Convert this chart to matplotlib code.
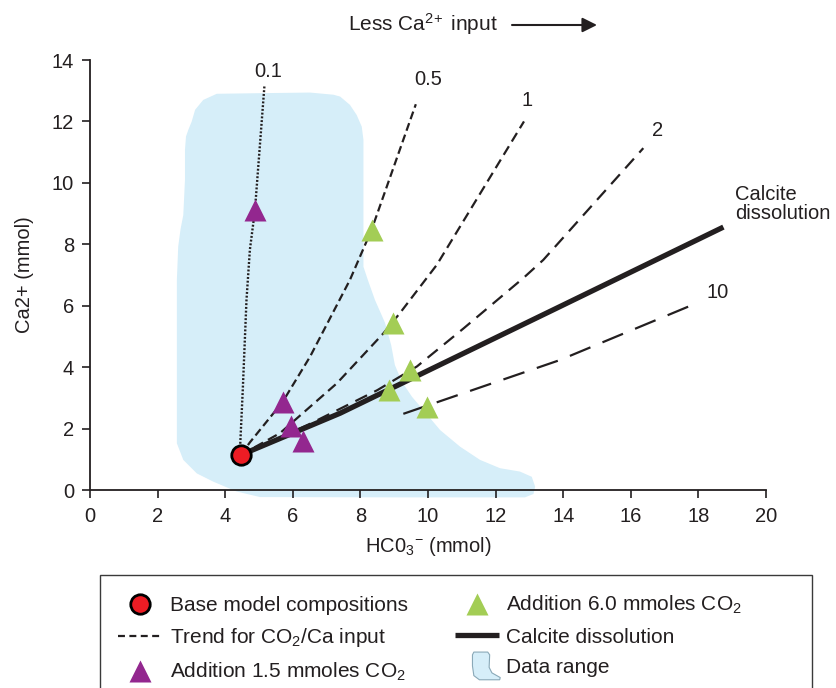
import matplotlib
matplotlib.use("Agg")
import matplotlib.pyplot as plt
import matplotlib.patches as mpatches
from matplotlib.lines import Line2D
from matplotlib.legend_handler import HandlerPatch

plt.rcParams['font.family'] = ['Liberation Sans', 'DejaVu Sans']
plt.rcParams['mathtext.fontset'] = 'custom'
plt.rcParams['mathtext.rm'] = 'Liberation Sans'
plt.rcParams['mathtext.it'] = 'Liberation Sans:italic'
plt.rcParams['mathtext.bf'] = 'Liberation Sans:bold'
plt.rcParams['lines.scale_dashes'] = False

# ---------------- data ----------------
base_x = [4.46]
base_y = [1.14]

add15_x = [4.88, 5.70, 5.94, 6.31]
add15_y = [9.11, 2.87, 2.07, 1.60]

add60_x = [8.33, 8.97, 9.47, 8.86, 9.98]
add60_y = [8.47, 5.44, 3.90, 3.26, 2.70]

t01_x = [4.43, 4.52, 4.63, 4.73, 4.88, 5.16]
t01_y = [1.14, 3.26, 6.19, 7.82, 9.11, 13.15]

t05_x = [4.46, 4.73, 5.70, 6.51, 7.69, 8.33, 9.64]
t05_y = [1.14, 1.55, 2.87, 4.34, 6.84, 8.47, 12.56]

t1_x = [4.46, 5.62, 7.30, 8.68, 9.17, 10.26, 12.84]
t1_y = [1.14, 1.85, 3.47, 5.10, 5.76, 7.33, 12.00]

t2_x = [4.46, 6.50, 8.50, 9.67, 11.04, 12.82, 13.41, 16.37]
t2_y = [1.14, 2.15, 3.25, 4.02, 5.25, 6.90, 7.49, 11.13]

t10_x = [9.27, 13.90, 18.05]
t10_y = [2.48, 4.23, 6.13]

calcite_x = [4.46, 7.40, 13.90, 18.74]
calcite_y = [1.14, 2.50, 5.97, 8.56]

range_x = [3.75, 5.03, 6.51, 7.20, 7.40, 7.69, 7.89, 8.04, 8.09, 8.09, 8.09,
           8.22, 8.43, 8.73, 8.91, 9.02, 9.23, 9.53, 9.91, 10.36, 10.95, 11.54,
           12.13, 12.72, 13.07, 13.17, 13.12, 12.87, 9.17, 5.03, 4.34, 3.65,
           3.16, 2.76, 2.57, 2.57, 2.61, 2.68, 2.76, 2.81, 2.81, 2.84, 2.91,
           3.01, 3.11, 3.35]
range_y = [12.90, 12.92, 12.94, 12.87, 12.81, 12.54, 12.21, 11.83, 11.40, 9.45, 7.27,
           6.84, 6.19, 5.44, 4.72, 4.07, 3.52, 3.03, 2.54, 1.95, 1.41, 0.98,
           0.71, 0.60, 0.43, 0.11, -0.13, -0.24, -0.24, -0.23, -0.05, 0.27,
           0.54, 0.98, 1.52, 6.84, 7.93, 8.50, 8.95, 10.10, 11.07, 11.51, 11.73,
           12.00, 12.38, 12.70]

trend_labels = ['0.1', '0.5', '1', '2', '10']
trend_label_x = [5.27, 10.0, 12.93, 16.80, 18.58]
trend_label_y = [13.62, 13.36, 12.67, 11.69, 6.42]

x_ticks = [0, 2, 4, 6, 8, 10, 12, 14, 16, 18, 20]
y_ticks = [0, 2, 4, 6, 8, 10, 12, 14]

# ---------------- styles ----------------
INK = '#231f20'
BLUE = '#d6eef9'
PURPLE = '#93278f'
GREEN = '#a3cd55'
RED = '#ed1c24'

W, H = 836, 688
fig = plt.figure(figsize=(W / 100, H / 100), dpi=100)
ax = fig.add_axes([90 / W, 1 - 490 / H, (766 - 90) / W, (490 - 60) / H])

ax.fill(range_x, range_y, color=BLUE, lw=0, zorder=0.5, clip_on=False)

ax.plot(t01_x, t01_y, color=INK, lw=1.7, dashes=(1.4, 1.3), zorder=2)
ax.plot(t05_x, t05_y, color=INK, lw=1.6, dashes=(5.8, 3.0), zorder=2)
ax.plot(t1_x, t1_y, color=INK, lw=1.6, dashes=(7.2, 4.0), zorder=2)
ax.plot(t2_x, t2_y, color=INK, lw=1.6, dashes=(9.4, 5.8), zorder=2)
ax.plot(t10_x, t10_y, color=INK, lw=1.6, dashes=(16.0, 9.4), zorder=2)
ax.plot(calcite_x, calcite_y, color=INK, lw=3.8, solid_capstyle='butt', zorder=3)

ax.plot(add15_x, add15_y, ls='none', marker='^', ms=16, color=PURPLE, mec='none', zorder=4)
ax.plot(add60_x, add60_y, ls='none', marker='^', ms=16, color=GREEN, mec='none', zorder=4)
ax.plot(base_x, base_y, ls='none', marker='o', ms=14, mfc=RED, mec='black', mew=2.0, zorder=5)

for lab, lx, ly in zip(trend_labels, trend_label_x, trend_label_y):
    ax.text(lx, ly, lab, ha='center', va='center', fontsize=14.5, color=INK)
ax.text(19.08, 9.32, 'Calcite\ndissolution', ha='left', va='center', fontsize=14.5,
        color=INK, linespacing=1.0)

ax.set_xlim(0, 20)
ax.set_ylim(0, 14)
ax.set_xticks(x_ticks)
ax.set_yticks(y_ticks)
for s in ['top', 'right']:
    ax.spines[s].set_visible(False)
for s in ['left', 'bottom']:
    ax.spines[s].set_color(INK)
    ax.spines[s].set_linewidth(1.3)
ax.tick_params(direction='out', length=5.5, width=1.2, colors=INK, labelsize=14.5)
ax.tick_params(axis='x', pad=6.5)
ax.tick_params(axis='y', pad=6)
ax.set_xlabel('HC0$_3$$^{-}$ (mmol)', fontsize=14.5, color=INK, labelpad=7)
ax.set_ylabel('Ca2+ (mmol)', fontsize=14.5, color=INK, labelpad=13)

# top annotation
fig.text(348 / W, 1 - 24 / H, 'Less Ca$^{2\\!+}$ input', fontsize=15, color=INK,
         ha='left', va='center')
ax.annotate('', xy=(597 / W, 1 - 25 / H), xytext=(512 / W, 1 - 25 / H),
            xycoords='figure fraction', textcoords='figure fraction',
            arrowprops=dict(arrowstyle='-|>', lw=1.5, color=INK, mutation_scale=22,
                            shrinkA=0, shrinkB=0))


# legend
class RangeHandler(HandlerPatch):
    def create_artists(self, legend, orig_handle, xdescent, ydescent, width, height,
                       fontsize, trans):
        x0 = -xdescent + width * 0.40
        w = width * 0.62
        y0 = -ydescent - height * 0.45
        h = height * 1.9
        pts = [(0.05, 1.0), (0.55, 1.0), (0.62, 0.9), (0.6, 0.45), (0.7, 0.25),
               (1.0, 0.08), (0.98, 0.0), (0.25, 0.0), (0.05, 0.15), (0.0, 0.5), (0.0, 0.9)]
        poly = mpatches.Polygon([(x0 + px * w, y0 + py * h) for px, py in pts],
                                closed=True, facecolor=BLUE, edgecolor='#8aa9b8',
                                lw=0.8, transform=trans)
        return [poly]


h_base = Line2D([], [], ls='none', marker='o', ms=14, mfc=RED, mec='black', mew=2.0)
h_trend = Line2D([], [], color=INK, lw=1.6, dashes=(5.0, 3.2))
h_p = Line2D([], [], ls='none', marker='^', ms=16, color=PURPLE, mec='none')
h_g = Line2D([], [], ls='none', marker='^', ms=16, color=GREEN, mec='none')
h_c = Line2D([], [], color=INK, lw=3.8, solid_capstyle='butt')
h_r = mpatches.Patch(facecolor=BLUE)

handles = [h_base, h_trend, h_p, h_g, h_c, h_r]
labels = ['Base model compositions', 'Trend for CO$_2$/Ca input',
          'Addition 1.5 mmoles CO$_2$', 'Addition 6.0 mmoles CO$_2$',
          'Calcite dissolution', 'Data range']
leg = fig.legend(handles, labels, ncol=2, loc='upper left',
                 bbox_to_anchor=(118 / W, 1 - 594 / H), frameon=False,
                 fontsize=15, handlelength=2.15, handletextpad=0.33,
                 columnspacing=2.25, labelspacing=0.55, borderpad=0, borderaxespad=0,
                 handler_map={mpatches.Patch: RangeHandler()})
for t in leg.get_texts():
    t.set_color(INK)

fig.patches.append(mpatches.Rectangle((100 / W, -0.05), (812 - 100) / W, 1 - 575 / H + 0.05,
                                      transform=fig.transFigure, fill=False,
                                      edgecolor='#3a3a3a', lw=1.0))

fig.savefig('out.png', dpi=100)
